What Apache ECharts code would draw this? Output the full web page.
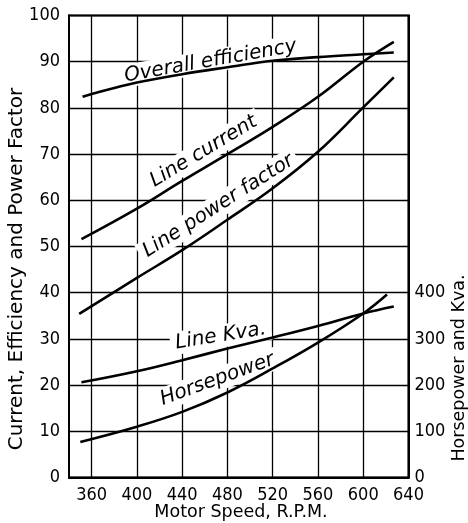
<!DOCTYPE html>
<html><head><meta charset="utf-8">
<script src="https://cdn.jsdelivr.net/npm/echarts@6/dist/echarts.min.js"></script>
<style>html,body{margin:0;padding:0;background:#fff}#c{width:468px;height:523px}</style>
</head><body><div id="c"></div>
<script>
// Tick labels
const xTicks = [360, 400, 440, 480, 520, 560, 600, 640];
const rightTicks = [0, 100, 200, 300, 400];
// Series (rpm, value)
const efficiency = [[352,82.4],[360,83.0],[380,84.3],[400,85.5],[440,87.3],[480,88.8],[520,90.2],[560,91.0],[600,91.6],[627,92.0]];
const lineCurrent = [[351,51.6],[400,58.2],[440,64.2],[480,70.0],[520,75.9],[560,82.4],[600,90.0],[627,94.3]];
const powerFactor = [[349,35.4],[400,43.2],[440,49.2],[480,55.8],[520,62.6],[560,70.5],[600,80.1],[627,86.6]];
const lineKva = [[351,206],[400,230],[440,254],[480,279],[520,303],[560,328],[600,355],[627,370]];
const horsepower = [[350,77],[400,110],[440,142],[480,184],[520,236],[560,292],[600,355],[621,396]];
// Curve names
const curveNames = ['Overall efficiency', 'Line current', 'Line power factor', 'Line Kva.', 'Horsepower'];

const FONT = 'DejaVu Sans';
const TICKFONT = '"DejaVu Sans Condensed", "Liberation Sans Narrow", "DejaVu Sans"';
const chart = echarts.init(document.getElementById('c'), null, {renderer: 'canvas'});

function curveLabel(name, coord, rot) {
  return {
    symbol: 'circle', symbolSize: 0, silent: true, z: 2,
    data: [{
      coord: coord,
      label: {
        show: true, position: 'inside', formatter: name, rotate: rot,
        fontFamily: FONT, fontStyle: 'italic', fontSize: 20, color: '#000',
        backgroundColor: '#fff', padding: [1, 5], lineHeight: 21
      }
    }]
  };
}

function lineSeries(data, yIdx, mp) {
  return {
    type: 'line', data: data, yAxisIndex: yIdx, smooth: 0.4, showSymbol: false,
    lineStyle: {color: '#000', width: 2.6}, z: 3, markPoint: mp, animation: false
  };
}

chart.setOption({
  animation: false,
  grid: {left: 69, right: 59.5, top: 15.5, bottom: 45.5, show: true, borderColor: '#000', borderWidth: 2},
  xAxis: {
    type: 'value', min: 340, max: 640, interval: 20,
    axisLine: {show: true, lineStyle: {color: '#000', width: 2}},
    axisTick: {show: false},
    axisLabel: {color: '#000', fontFamily: TICKFONT, fontSize: 18, margin: 9,
      formatter: v => xTicks.includes(v) ? String(v) : ''},
    splitLine: {show: true, lineStyle: {color: ['transparent', '#000'], width: 1.3}}
  },
  yAxis: [{
    type: 'value', min: 0, max: 100, interval: 10,
    axisLine: {show: true, lineStyle: {color: '#000', width: 2}},
    axisTick: {show: false},
    axisLabel: {color: '#000', fontFamily: TICKFONT, fontSize: 18, margin: 9},
    splitLine: {show: true, lineStyle: {color: '#000', width: 1.3}}
  }, {
    type: 'value', min: 0, max: 1000, interval: 100, position: 'right',
    axisLine: {show: true, lineStyle: {color: '#000', width: 2}},
    axisTick: {show: false},
    axisLabel: {color: '#000', fontFamily: TICKFONT, fontSize: 18, margin: 6,
      formatter: v => rightTicks.includes(v) ? String(v) : ''},
    splitLine: {show: false}
  }],
  graphic: [
    {type: 'text', x: 17, y: 269, rotation: Math.PI / 2,
     style: {text: 'Current, Efficiency and Power Factor', font: '20px "DejaVu Sans"', fill: '#000', textAlign: 'center', textVerticalAlign: 'middle'}},
    {type: 'text', x: 241, y: 512,
     style: {text: 'Motor Speed, R.P.M.', font: '17.5px "DejaVu Sans"', fill: '#000', textAlign: 'center', textVerticalAlign: 'middle'}},
    {type: 'text', x: 459, y: 368, rotation: Math.PI / 2,
     style: {text: 'Horsepower and Kva.', font: '17.5px "DejaVu Sans"', fill: '#000', textAlign: 'center', textVerticalAlign: 'middle'}}
  ],
  series: [
    lineSeries(efficiency, 0, curveLabel(curveNames[0], [465, 90.1], 10)),
    lineSeries(lineCurrent, 0, curveLabel(curveNames[1], [459, 70.6], 31)),
    lineSeries(powerFactor, 0, curveLabel(curveNames[2], [472, 58.8], 32.5)),
    lineSeries(lineKva, 1, curveLabel(curveNames[3], [474, 306], 9)),
    lineSeries(horsepower, 1, curveLabel(curveNames[4], [471, 212], 20))
  ]
});
</script></body></html>
